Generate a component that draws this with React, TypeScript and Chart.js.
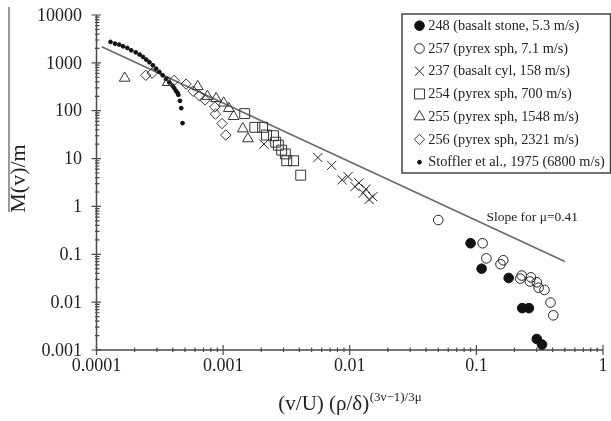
import React, { useEffect, useRef } from "react";
import { Chart, registerables } from "chart.js";

Chart.register(...registerables);

const FONT = '"Liberation Serif", "Times New Roman", serif';

const xTickLabels = ["0.0001", "0.001", "0.01", "0.1", "1"];
const yTickLabels = ["0.001", "0.01", "0.1", "1", "10", "100", "1000", "10000"];

const seriesLabels = [
  "248 (basalt stone, 5.3 m/s)",
  "257 (pyrex sph, 7.1 m/s)",
  "237 (basalt cyl, 158 m/s)",
  "254 (pyrex sph, 700 m/s)",
  "255 (pyrex sph, 1548 m/s)",
  "256 (pyrex sph, 2321 m/s)",
  "Stoffler et al., 1975 (6800 m/s)",
];

const basaltStone248: number[][] = [
  [0.09, 0.17], [0.11, 0.05], [0.18, 0.032], [0.23, 0.0075], [0.26, 0.0075], [0.3, 0.0017], [0.33, 0.0013],
];
const pyrex257: number[][] = [
  [0.05, 0.52], [0.112, 0.17], [0.12, 0.082], [0.155, 0.062], [0.163, 0.075], [0.222, 0.031], [0.228, 0.036],
  [0.265, 0.027], [0.27, 0.033], [0.3, 0.026], [0.31, 0.02], [0.345, 0.018], [0.385, 0.0098], [0.405, 0.0053],
];
const basaltCyl237: number[][] = [
  [0.0021, 20], [0.0056, 10.5], [0.0072, 7.2], [0.0087, 3.6], [0.0097, 4.2], [0.011, 2.6], [0.0118, 3.1],
  [0.0128, 1.9], [0.0134, 2.3], [0.0142, 1.4], [0.0152, 1.6],
];
const pyrex254: number[][] = [
  [0.00148, 87], [0.00178, 45], [0.00205, 45], [0.0022, 31], [0.0025, 30], [0.0026, 22], [0.00273, 19],
  [0.0029, 15], [0.0031, 12.5], [0.00318, 9], [0.0036, 9], [0.0041, 4.5],
];
const pyrex255: number[][] = [
  [0.000167, 480], [0.000365, 390], [0.00063, 320], [0.00075, 200], [0.00088, 180], [0.00101, 145],
  [0.00111, 112], [0.00121, 76], [0.00143, 42], [0.00157, 26],
];
const pyrex256: number[][] = [
  [0.000245, 550], [0.000275, 610], [0.00041, 430], [0.00051, 360], [0.00058, 255], [0.00065, 205],
  [0.00072, 168], [0.00086, 120], [0.00087, 85], [0.00098, 54], [0.00105, 31],
];
const stoffler1975: number[][] = [
  [0.000129, 2740], [0.00014, 2520], [0.000151, 2410], [0.000162, 2220], [0.000175, 2050], [0.000188, 1830],
  [0.000204, 1660], [0.000219, 1490], [0.000233, 1330], [0.000247, 1170], [0.000262, 1030], [0.000279, 890],
  [0.000296, 755], [0.000314, 645], [0.000333, 550], [0.000354, 460], [0.000376, 390], [0.000399, 333],
  [0.000411, 297], [0.000424, 261], [0.000437, 234], [0.000443, 215], [0.000456, 161], [0.000467, 113],
  [0.000478, 55],
];
const slopeLine: number[][] = [[0.00011, 2180], [0.5, 0.071]];
const slopeLabel = "Slope for \u03bc=0.41";

const seriesData = [basaltStone248, pyrex257, basaltCyl237, pyrex254, pyrex255, pyrex256, stoffler1975];

const markerStyles = [
  { pointStyle: "circle", radius: 4.8, fill: "#111", stroke: "#111" },
  { pointStyle: "circle", radius: 4.8, fill: "rgba(0,0,0,0)", stroke: "#222" },
  { pointStyle: "crossRot", radius: 6.5, fill: "rgba(0,0,0,0)", stroke: "#222" },
  { pointStyle: "rect", radius: 7, fill: "rgba(0,0,0,0)", stroke: "#333" },
  { pointStyle: "triangle", radius: 6.2, fill: "rgba(0,0,0,0)", stroke: "#333" },
  { pointStyle: "rectRot", radius: 5.2, fill: "rgba(0,0,0,0)", stroke: "#333" },
  { pointStyle: "circle", radius: 1.9, fill: "#111", stroke: "#111" },
];

function drawMarker(ctx: CanvasRenderingContext2D, st: any, x: number, y: number) {
  const r = st.radius;
  ctx.save();
  ctx.fillStyle = st.fill;
  ctx.strokeStyle = st.stroke;
  ctx.lineWidth = 1;
  ctx.beginPath();
  if (st.pointStyle === "circle") {
    ctx.arc(x, y, r, 0, Math.PI * 2);
    ctx.fill();
    ctx.stroke();
  } else if (st.pointStyle === "crossRot") {
    const d = r * Math.SQRT1_2;
    ctx.moveTo(x - d, y - d);
    ctx.lineTo(x + d, y + d);
    ctx.moveTo(x + d, y - d);
    ctx.lineTo(x - d, y + d);
    ctx.stroke();
  } else if (st.pointStyle === "rect") {
    const s = r * Math.SQRT1_2;
    ctx.rect(x - s, y - s, 2 * s, 2 * s);
    ctx.stroke();
  } else if (st.pointStyle === "triangle") {
    ctx.moveTo(x, y - r);
    ctx.lineTo(x + 0.866 * r, y + 0.5 * r);
    ctx.lineTo(x - 0.866 * r, y + 0.5 * r);
    ctx.closePath();
    ctx.stroke();
  } else if (st.pointStyle === "rectRot") {
    ctx.moveTo(x, y - r);
    ctx.lineTo(x + r, y);
    ctx.lineTo(x, y + r);
    ctx.lineTo(x - r, y);
    ctx.closePath();
    ctx.stroke();
  }
  ctx.restore();
}

const decorations = {
  id: "decorations",
  beforeDatasetsDraw(chart: any) {
    const ctx: CanvasRenderingContext2D = chart.ctx;
    const xs = chart.scales.x;
    const ys = chart.scales.y;
    const left = xs.getPixelForValue(Number(xTickLabels[0]));
    const right = xs.getPixelForValue(Number(xTickLabels[xTickLabels.length - 1]));
    const bottom = ys.getPixelForValue(Number(yTickLabels[0]));
    const top = ys.getPixelForValue(Number(yTickLabels[yTickLabels.length - 1]));
    ctx.save();
    ctx.strokeStyle = "#4a4a4a";
    ctx.lineWidth = 1.5;
    ctx.beginPath();
    ctx.moveTo(left, top);
    ctx.lineTo(left, bottom);
    ctx.lineTo(right, bottom);
    ctx.stroke();
    ctx.lineWidth = 1.2;
    ctx.beginPath();
    // y ticks
    for (let i = 0; i < yTickLabels.length; i++) {
      const v = Number(yTickLabels[i]);
      const py = ys.getPixelForValue(v);
      ctx.moveTo(left - 5, py);
      ctx.lineTo(left + 4.5, py);
      if (i < yTickLabels.length - 1) {
        for (let k = 2; k <= 9; k++) {
          const my = ys.getPixelForValue(v * k);
          ctx.moveTo(left - 1.5, my);
          ctx.lineTo(left + 3, my);
        }
      }
    }
    // x ticks
    for (let i = 0; i < xTickLabels.length; i++) {
      const v = Number(xTickLabels[i]);
      const px = xs.getPixelForValue(v);
      ctx.moveTo(px, bottom - 5);
      ctx.lineTo(px, bottom + 5);
      if (i < xTickLabels.length - 1) {
        for (let k = 2; k <= 9; k++) {
          const mx = xs.getPixelForValue(v * k);
          ctx.moveTo(mx, bottom - 2.5);
          ctx.lineTo(mx, bottom + 2);
        }
      }
    }
    ctx.stroke();

    // tick labels
    ctx.fillStyle = "#222";
    ctx.font = `18px ${FONT}`;
    ctx.textAlign = "right";
    ctx.textBaseline = "middle";
    for (const lab of yTickLabels) {
      ctx.fillText(lab, left - 14.5, ys.getPixelForValue(Number(lab)) + 1);
    }
    ctx.textAlign = "center";
    ctx.textBaseline = "alphabetic";
    for (const lab of xTickLabels) {
      ctx.fillText(lab, xs.getPixelForValue(Number(lab)), bottom + 21);
    }

    // x axis title with superscript
    const main = "(v/U) (\u03c1/\u03b4)";
    const sup = "(3\u03bd\u22121)/3\u03bc";
    ctx.font = `21px ${FONT}`;
    const wm = ctx.measureText(main).width;
    ctx.font = `13px ${FONT}`;
    const ws = ctx.measureText(sup).width;
    const cx = (left + right) / 2;
    const sx = cx - (wm + ws) / 2;
    ctx.textAlign = "left";
    ctx.font = `21px ${FONT}`;
    ctx.fillText(main, sx, bottom + 60);
    ctx.font = `13px ${FONT}`;
    ctx.fillText(sup, sx + wm + 0.5, bottom + 51);

    // y axis title
    ctx.save();
    ctx.translate(25, (top + bottom) / 2 - 4);
    ctx.rotate(-Math.PI / 2);
    ctx.font = `22px ${FONT}`;
    ctx.textAlign = "center";
    ctx.textBaseline = "alphabetic";
    ctx.fillText("M(v)/m", 0, 0);
    ctx.restore();

    // vertical rule at left edge of the figure
    ctx.strokeStyle = "#333";
    ctx.lineWidth = 1;
    ctx.beginPath();
    ctx.moveTo(9, 7);
    ctx.lineTo(9, 212);
    ctx.stroke();
    ctx.restore();
  },
  afterDraw(chart: any) {
    const ctx: CanvasRenderingContext2D = chart.ctx;
    const xs = chart.scales.x;
    const ys = chart.scales.y;
    ctx.save();
    // slope label
    ctx.fillStyle = "#222";
    ctx.font = `13.5px ${FONT}`;
    ctx.textAlign = "left";
    ctx.textBaseline = "middle";
    ctx.fillText(slopeLabel, xs.getPixelForValue(0.12), ys.getPixelForValue(0.6));

    // legend box
    const bx = 402, by = 14, bw = 208.5, bh = 159;
    ctx.fillStyle = "#fff";
    ctx.fillRect(bx, by, bw, bh);
    ctx.strokeStyle = "#444";
    ctx.lineWidth = 1.5;
    ctx.strokeRect(bx, by, bw, bh);
    ctx.font = `14.3px ${FONT}`;
    ctx.textBaseline = "middle";
    for (let i = 0; i < seriesLabels.length; i++) {
      const ry = by + 11.7 + i * 22.75;
      drawMarker(ctx, markerStyles[i], 419.5, ry);
      ctx.fillStyle = "#222";
      ctx.fillText(seriesLabels[i], 428.3, ry + 0.5);
    }
    ctx.restore();
  },
};

export default function App() {
  const ref = useRef<HTMLCanvasElement | null>(null);
  useEffect(() => {
    if (!ref.current) return;
    const datasets: any[] = seriesData.map((arr, i) => ({
      type: "scatter",
      label: seriesLabels[i],
      data: arr.map(([x, y]) => ({ x, y })),
      pointStyle: markerStyles[i].pointStyle,
      pointRadius: markerStyles[i].radius,
      pointHoverRadius: markerStyles[i].radius,
      pointBackgroundColor: markerStyles[i].fill,
      pointBorderColor: markerStyles[i].stroke,
      pointBorderWidth: 1,
      showLine: false,
      order: 1,
    }));
    datasets.push({
      type: "line",
      label: "slope",
      data: slopeLine.map(([x, y]) => ({ x, y })),
      borderColor: "#6a6a6a",
      borderWidth: 1.6,
      pointRadius: 0,
      fill: false,
      tension: 0,
      order: 2,
    });
    const chart = new Chart(ref.current, {
      type: "scatter",
      data: { datasets },
      options: {
        responsive: false,
        animation: false,
        events: [],
        layout: { padding: { left: 96.5, right: 4, top: 15, bottom: 71 } },
        plugins: { legend: { display: false }, tooltip: { enabled: false } },
        scales: {
          x: { type: "logarithmic", min: 0.0001, max: 1, display: false },
          y: { type: "logarithmic", min: 0.001, max: 10000, display: false },
        },
      },
      plugins: [decorations],
    } as any);
    return () => chart.destroy();
  }, []);
  return (
    <div style={{ position: "absolute", left: 0, top: 0, width: 611, height: 421, background: "#fff" }}>
      <canvas ref={ref} width={611} height={421} style={{ display: "block" }} />
    </div>
  );
}
